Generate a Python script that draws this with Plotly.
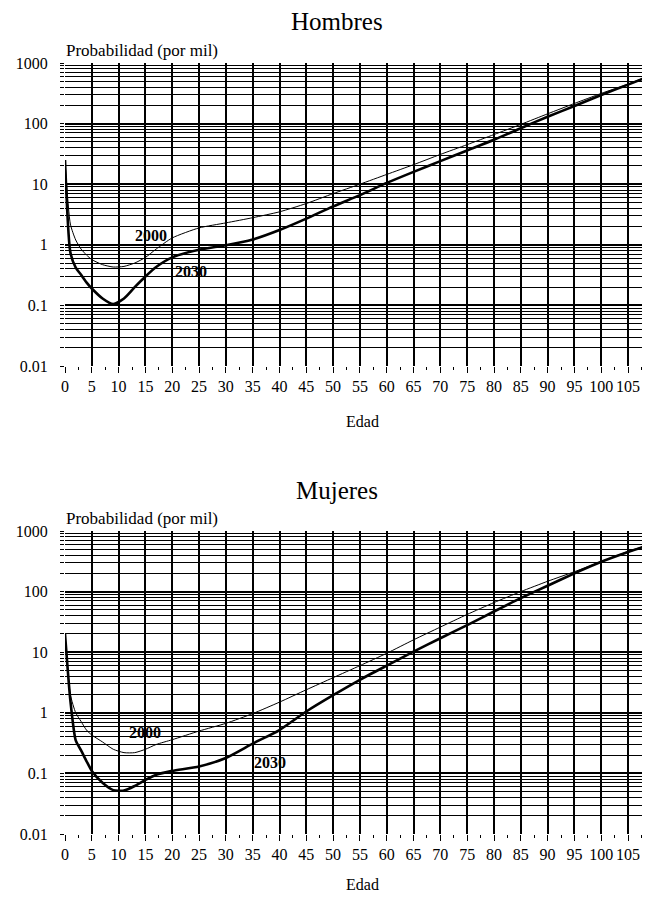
import math
import plotly.graph_objects as go
from plotly.subplots import make_subplots

# ---- data (probabilidad de muerte por mil) ----
edad = [0, 1, 2, 3, 4, 5, 7, 9, 11, 13, 15, 17, 20, 25, 30, 35, 40, 45, 50,
        55, 60, 65, 70, 75, 80, 85, 90, 95, 100, 105, 108]

hombres_2000 = [25, 2.2, 1.2, 0.85, 0.68, 0.57, 0.47, 0.43, 0.44, 0.5, 0.62, 0.85,
                1.3, 1.9, 2.3, 2.8, 3.5, 4.8, 7.0, 10, 14.5, 21, 31, 45, 66, 97,
                145, 215, 315, 450, 570]
hombres_2030 = [25, 0.75, 0.42, 0.32, 0.24, 0.19, 0.13, 0.105, 0.13, 0.2, 0.3, 0.43,
                0.62, 0.83, 0.98, 1.22, 1.75, 2.7, 4.3, 6.6, 10.5, 16, 24, 36, 54,
                84, 130, 195, 296, 440, 560]

mujeres_2000 = [20, 2.0, 1.0, 0.72, 0.52, 0.43, 0.33, 0.25, 0.22, 0.22, 0.25, 0.3,
                0.36, 0.5, 0.67, 0.97, 1.5, 2.4, 3.8, 6.0, 9.6, 16, 26, 42, 66,
                100, 148, 213, 312, 460, 560]
mujeres_2030 = [20, 1.6, 0.35, 0.24, 0.16, 0.11, 0.07, 0.053, 0.052, 0.062, 0.078,
                0.095, 0.11, 0.13, 0.18, 0.31, 0.52, 1.05, 1.95, 3.5, 6.0, 10.2, 17,
                28, 47, 78, 125, 200, 310, 450, 550]

titulos = ["Hombres", "Mujeres"]
x_ticks = list(range(0, 106, 5))
y_ticks = [0.01, 0.1, 1, 10, 100, 1000]
y_labels = ["0.01", "0.1", "1", "10", "100", "1000"]
etiquetas = [  # (panel, texto, edad, valor)
    (0, "2000", 16, 1.45), (0, "2030", 23.5, 0.356),
    (1, "2000", 15, 0.48), (1, "2030", 38.2, 0.149),
]

FONT = "Liberation Serif, Times New Roman, serif"
OFF = 8  # default page body margin
PAGE_W, PAGE_H = 650, 901
W, H = PAGE_W - 2 * OFF, PAGE_H - 2 * OFF   # figure fits inside the page body
# desired page-pixel positions of plot area
P_LEFT, P_RIGHT = 65, PAGE_W - OFF
P_TOP, P_BOT = 63, 834
L = P_LEFT - OFF
R = W - (P_RIGHT - OFF)
T = P_TOP - OFF
B = H - (P_BOT - OFF)
plot_h = H - T - B
plot_w = W - L - R

def py2paper(py):  # page pixel -> paper
    return (P_BOT - py) / plot_h

def px2paper(px):
    return (px - P_LEFT) / plot_w

fig = make_subplots(rows=2, cols=1, vertical_spacing=0.0)

series = [(hombres_2000, hombres_2030), (mujeres_2000, mujeres_2030)]
for i, (s2000, s2030) in enumerate(series):
    fig.add_trace(go.Scatter(x=edad, y=s2000, mode="lines",
                             line=dict(color="black", width=1, shape="spline", smoothing=0.6),
                             showlegend=False), row=i + 1, col=1)
    fig.add_trace(go.Scatter(x=edad, y=s2030, mode="lines",
                             line=dict(color="black", width=2.6, shape="spline", smoothing=0.6),
                             showlegend=False), row=i + 1, col=1)

minor_vals = [m * 10 ** e for e in range(-2, 3) for m in range(2, 10)]

domains = [[py2paper(366), py2paper(63)], [py2paper(834), py2paper(531)]]
for i in range(2):
    xa = "xaxis" if i == 0 else "xaxis2"
    ya = "yaxis" if i == 0 else "yaxis2"
    fig.layout[xa].update(
        range=[0, 107.6], domain=[0, 1], automargin=False,
        tickvals=x_ticks, ticktext=[str(v) for v in x_ticks],
        ticks="outside", ticklen=6, tickwidth=1, tickcolor="black",
        showgrid=True, gridcolor="black", gridwidth=1.5,
        zeroline=False, showline=False,
        tickfont=dict(family=FONT, size=16, color="black"),
        minor=dict(tickvals=[v + 2.5 for v in x_ticks], ticks="outside", ticklen=3,
                   tickcolor="black", showgrid=False),
    )
    fig.layout[ya].update(
        type="log", range=[-2, 3], domain=domains[i], automargin=False,
        tickvals=y_ticks, ticktext=y_labels,
        ticks="outside", ticklen=4, tickcolor="black", tickwidth=1,
        ticklabelstandoff=9,
        showgrid=True, gridcolor="black", gridwidth=2,
        zeroline=False, showline=False,
        tickfont=dict(family=FONT, size=16, color="black"),
        minor=dict(tickvals=minor_vals, ticks="outside", ticklen=4, tickcolor="black",
                   showgrid=True, gridcolor="black", gridwidth=1),
    )

annotations = []
for i, titulo in enumerate(titulos):
    top_px = 63 if i == 0 else 531
    bot_px = 366 if i == 0 else 834
    annotations.append(dict(text=titulo, xref="paper", yref="paper",
                            x=px2paper(337), y=py2paper(top_px - 41),
                            showarrow=False, xanchor="center", yanchor="middle",
                            font=dict(family=FONT, size=25, color="black")))
    annotations.append(dict(text="Probabilidad (por mil)", xref="paper", yref="paper",
                            x=px2paper(64), y=py2paper(top_px - 13),
                            showarrow=False, xanchor="left", yanchor="middle",
                            font=dict(family=FONT, size=17, color="black")))
    annotations.append(dict(text="Edad", xref="paper", yref="paper",
                            x=px2paper(362), y=py2paper(bot_px + (55 if i == 0 else 50)),
                            showarrow=False, xanchor="center", yanchor="middle",
                            font=dict(family=FONT, size=16, color="black")))
for panel, texto, x, v in etiquetas:
    annotations.append(dict(text="<b>" + texto + "</b>", xref="x" if panel == 0 else "x2",
                            yref="y" if panel == 0 else "y2", x=x, y=math.log10(v),
                            showarrow=False, font=dict(family=FONT, size=16, color="black")))

fig.update_layout(
    width=W, height=H,
    margin=dict(l=L, r=R, t=T, b=B),
    paper_bgcolor="white", plot_bgcolor="white",
    annotations=annotations,
    font=dict(family=FONT, color="black"),
)

fig.write_html("out.html")
